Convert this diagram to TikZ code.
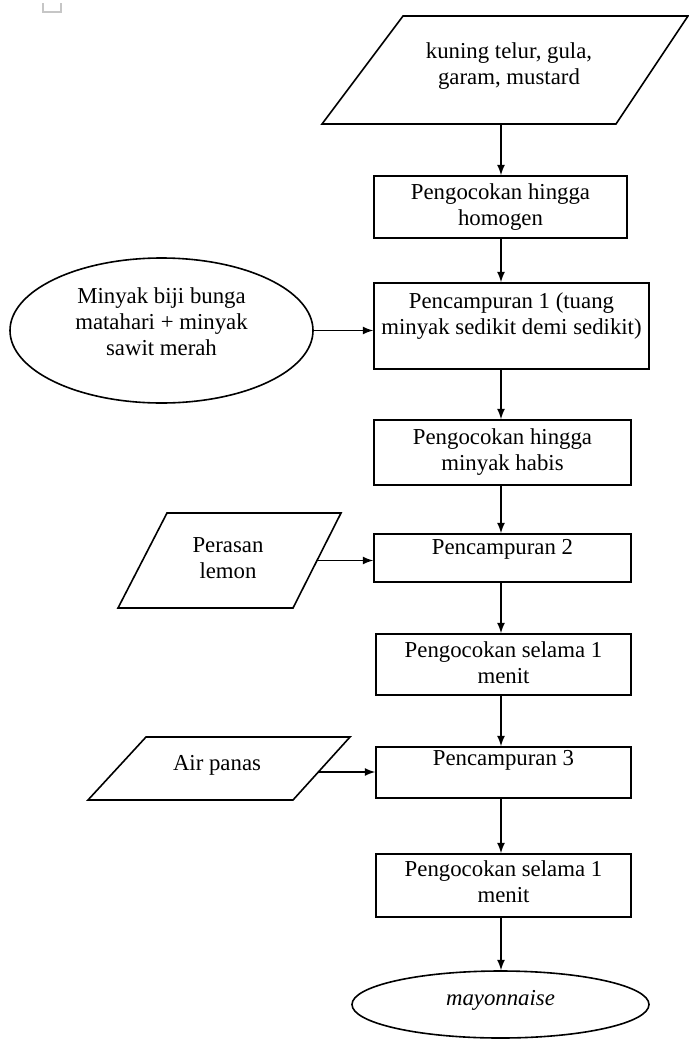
\documentclass[tikz,border=0pt]{standalone}
\usepackage{fontspec}
\setmainfont{Liberation Serif}
\usetikzlibrary{shapes.geometric}

\begin{document}
\begin{tikzpicture}[x=0.5pt,y=-0.5pt,>=latex,line width=0.8pt,
  font=\fontsize{11.4}{13}\selectfont,
  box/.style={draw,rectangle,align=center,inner sep=1pt},
  oval/.style={draw,ellipse,align=center,inner sep=0pt},
  lift/.style={text depth=#1}]
  \useasboundingbox (0,0) rectangle (689,1039);
  \draw[gray!45,line width=0.6pt] (43,3)--(43,12)--(61,12)--(61,3);
  % bahan awal
  \coordinate (k1) at (403,16);
  \coordinate (k2) at (688,16);
  \coordinate (k3) at (616,124);
  \coordinate (k4) at (322,124);
  \draw (k1)--(k2)--(k3)--(k4)--cycle;
  \node[align=center] (kuning) at (509,66) {kuning telur, gula,\\garam, mustard};
  \coordinate (kB) at (501,124);
  % proses
  \node[box,minimum width=126.5pt,minimum height=31pt] (b1) at (500.5,207) {Pengocokan hingga\\homogen};
  \node[box,lift=12.5pt,minimum width=137.5pt,minimum height=43pt] (b2) at (511.5,326) {Pencampuran 1 (tuang\\minyak sedikit demi sedikit)};
  \node[box,minimum width=128.5pt,minimum height=32.5pt] (b3) at (502.5,452.5) {Pengocokan hingga\\minyak habis};
  \node[box,lift=11.5pt,minimum width=128.5pt,minimum height=24pt] (b4) at (502.5,558) {Pencampuran 2};
  \node[box,lift=2pt,minimum width=127.5pt,minimum height=30.5pt] (b5) at (503.5,664.5) {Pengocokan selama 1\\menit};
  \node[box,lift=14.5pt,minimum width=127.5pt,minimum height=25.5pt] (b6) at (503.5,772.5) {Pencampuran 3};
  \node[box,lift=4pt,minimum width=127.5pt,minimum height=31.5pt] (b7) at (503.5,885.5) {Pengocokan selama 1\\menit};
  \node[oval,lift=7pt,minimum width=148.5pt,minimum height=33.5pt] (mayo) at (500.5,1004.5) {\textit{mayonnaise}};
  \draw[->] (kB) -- (kB |- b1.north);
  \draw[->] (b1.south -| kB) -- (b2.north -| kB);
  \draw[->] (b2.south -| kB) -- (b3.north -| kB);
  \draw[->] (b3.south -| kB) -- (b4.north -| kB);
  \draw[->] (b4.south -| kB) -- (b5.north -| kB);
  \draw[->] (b5.south -| kB) -- (b6.north -| kB);
  \draw[->] (b6.south -| kB) -- (b7.north -| kB);
  \draw[->] (b7.south -| kB) -- (mayo.north -| kB);
  % bahan tambahan
  \node[oval,lift=9pt,minimum width=151.5pt,minimum height=72.5pt] (minyak) at (161.5,330.5) {Minyak biji bunga\\matahari + minyak\\sawit merah};
  \draw[->] (minyak.east) -- (minyak.east -| b2.west);
  \coordinate (l1) at (167,513);
  \coordinate (l2) at (341,513);
  \coordinate (l3) at (293,608);
  \coordinate (l4) at (118,608);
  \draw (l1)--(l2)--(l3)--(l4)--cycle;
  \node[align=center] (lemon) at (228,558.5) {Perasan\\lemon};
  \coordinate (lR) at (317,560.5);
  \draw[->] (lR) -- (lR -| b4.west);
  \coordinate (a1) at (146,737);
  \coordinate (a2) at (350,737);
  \coordinate (a3) at (293,800);
  \coordinate (a4) at (88,800);
  \draw (a1)--(a2)--(a3)--(a4)--cycle;
  \node (air) at (217,765) {Air panas};
  \coordinate (aR) at (318,772);
  \draw[->] (aR) -- (aR -| b6.west);
\end{tikzpicture}
\end{document}
